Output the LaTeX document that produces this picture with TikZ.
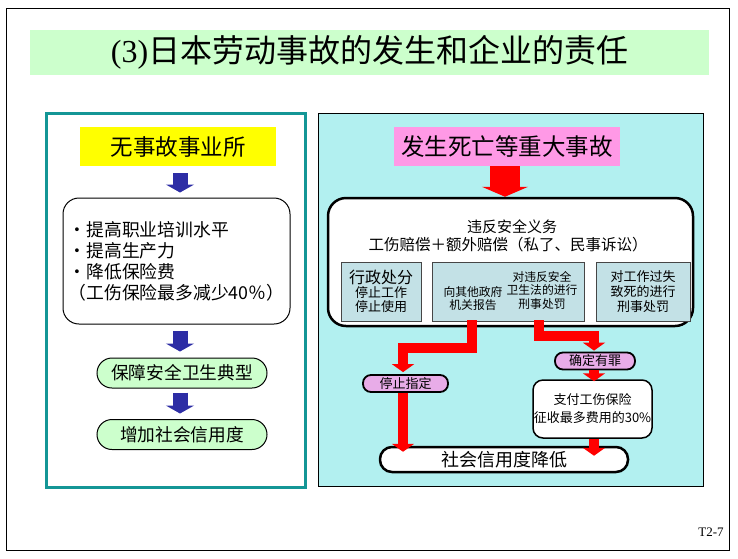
\documentclass[tikz,border=0pt]{standalone}
\usepackage{fontspec}
\setmainfont{Noto Sans CJK SC}
\newfontfamily\serifnum{Liberation Serif}
\usetikzlibrary{arrows.meta,calc}
\definecolor{titlegreen}{RGB}{204,255,204}
\definecolor{panelteal}{RGB}{20,150,150}
\definecolor{boxyellow}{RGB}{255,255,0}
\definecolor{pillgreen}{RGB}{204,255,204}
\definecolor{panelcyan}{RGB}{178,240,240}
\definecolor{pinkbox}{RGB}{255,153,230}
\definecolor{innerbox}{RGB}{195,225,230}
\definecolor{innerline}{RGB}{70,70,70}
\definecolor{lilac}{RGB}{232,172,232}
\definecolor{arrowblue}{RGB}{45,45,165}
\definecolor{arrowred}{RGB}{255,0,0}
\tikzset{
  pillg/.style={draw, line width=1pt, fill=pillgreen, rounded corners=15pt,
    minimum width=170pt, minimum height=30pt, inner sep=0pt,
    font=\fontsize{17.7}{20}\selectfont},
  pillp/.style={draw, line width=1.8pt, fill=lilac, rounded corners=8pt,
    minimum height=17pt, inner sep=0pt, font=\fontsize{13}{14}\selectfont},
  inbox/.style={draw=innerline, line width=0.6pt, fill=innerbox,
    minimum height=59pt, inner sep=0pt, align=center},
  smalltext/.style={inner sep=0pt, align=center, font=\fontsize{11.8}{13.5}\selectfont},
  bluearr/.style={draw=arrowblue, line width=15pt, -{Triangle[width=28pt,length=8pt]}},
  bigred/.style={draw=arrowred, line width=30pt, -{Triangle[width=46pt,length=10pt]}},
  redline/.style={draw=arrowred, line width=10pt, -{Triangle[width=22pt,length=8pt]}},
}
\begin{document}
\begin{tikzpicture}[x=1pt,y=-1pt]
\useasboundingbox (0,0) rectangle (738,558);
\draw[line width=1pt] (6,8) rectangle (729,550);

% title
\node[fill=titlegreen, minimum width=679pt, minimum height=45pt, inner sep=0pt,
  font=\fontsize{32}{32}\selectfont] (title) at (369.5,52.5)
  {{\serifnum(3)}日本劳动事故的发生和企业的责任};

% left panel
\node[draw=panelteal, line width=3pt, fill=white, minimum width=259pt,
  minimum height=374pt] (lpanel) at (175.5,300) {};
\node[fill=boxyellow, minimum width=196pt, minimum height=39pt, inner sep=0pt,
  font=\fontsize{22.5}{22.5}\selectfont] (safe) at (178,146.5) {无事故事业所};
\node[draw, line width=1pt, rounded corners=16pt, fill=white, minimum width=227pt,
  minimum height=126pt, align=left, inner sep=0pt,
  font=\fontsize{17.8}{21}\selectfont] (benefit) at (176.5,261)
  {・提高职业培训水平\\・提高生产力\\・降低保险费\\（工伤保险最多减少40％）};
\node[pillg] (model) at (182,373) {保障安全卫生典型};
\node[pillg] (trust) at (182,434.5) {增加社会信用度};

\draw[bluearr] ($(safe.south)+(2,7)$) -- ($(benefit.north)+(3.5,-5)$);
\draw[bluearr] ($(benefit.south)+(3.5,6)$) -- ($(model.north)+(-2,-6)$);
\draw[bluearr] ($(model.south)+(-2,4)$) -- ($(trust.north)+(-2,-5.5)$);

% right panel
\node[draw, line width=0.8pt, fill=panelcyan, minimum width=385pt,
  minimum height=373pt] (rpanel) at (510.5,300) {};
\node[fill=pinkbox, minimum width=226pt, minimum height=39pt, inner sep=0pt,
  font=\fontsize{23.5}{23.5}\selectfont] (accident) at (507,146.5) {发生死亡等重大事故};
\node[draw, line width=2.5pt, rounded corners=18pt, fill=white, minimum width=365pt,
  minimum height=128pt] (duty) at (510.5,262) {};
\node[inner sep=0pt, font=\fontsize{15}{15}\selectfont] (duty1) at (512,227) {违反安全义务};
\node[inner sep=0pt, font=\fontsize{15.5}{15.5}\selectfont] (duty2) at (508,245)
  {工伤赔偿＋额外赔偿（私了、民事诉讼）};

\node[inbox, minimum width=80pt, font=\fontsize{13}{14}\selectfont] (admin) at (381,291.5)
  {{\fontsize{16}{17}\selectfont 行政处分}\\停止工作\\停止使用};
\node[inbox, minimum width=152pt] (report) at (508,291.5) {};
\node[smalltext] (reportL) at (473,298.5) {向其他政府\\机关报告};
\node[smalltext] (reportR) at (542,290) {对违反安全\\卫生法的进行\\刑事处罚};
\node[inbox, minimum width=94pt, font=\fontsize{13}{15}\selectfont] (crime) at (643,291.5)
  {对工作过失\\致死的进行\\刑事处罚};

\node[draw, line width=1.5pt, rounded corners=10pt, fill=white, minimum width=119pt,
  minimum height=58pt, align=center, inner sep=0pt,
  font=\fontsize{13}{18}\selectfont] (pay) at (592.5,409)
  {支付工伤保险\\征收最多费用的30\%};
\node[draw, line width=2.5pt, rounded corners=12pt, fill=white, minimum width=248pt,
  minimum height=25pt, inner sep=0pt, font=\fontsize{18}{18}\selectfont] (lower)
  at (504,459.5) {社会信用度降低};
\node[pillp, minimum width=85pt] (stop) at (405.5,383.5) {停止指定};
\node[pillp, minimum width=80pt] (guilty) at (595,361) {确定有罪};

% red connectors
\draw[bigred] ($(accident.south)+(-2,0)$) -- ($(accident.south|-duty.north)+(-2,0)$);
\coordinate (r1) at ($(report.south west)+(40,-1)$);
\coordinate (r2) at ($(report.south west)+(107,-1)$);
\draw[redline] (r1) -- ++(0,28) -| ($(stop.north)+(-2.5,-2)$);
\draw[redline] (r2) -- ++(0,16) -| ($(guilty.north)+(-1,-1)$);
\draw[redline] ($(stop.south)+(-2.5,0)$) -- ($(stop.south|-lower.north)+(-2.5,6)$);
\draw[redline] ($(guilty.south)+(-1,0)$) -- ($(guilty.south|-pay.north)+(-1,2)$);
\draw[redline] ($(pay.south)+(1.5,0)$) -- ($(pay.south|-lower.north)+(1.5,10)$);

\node[inner sep=0pt, font=\serifnum\fontsize{13}{13}\selectfont] (tag) at (711,532) {T2-7};
\end{tikzpicture}
\end{document}
